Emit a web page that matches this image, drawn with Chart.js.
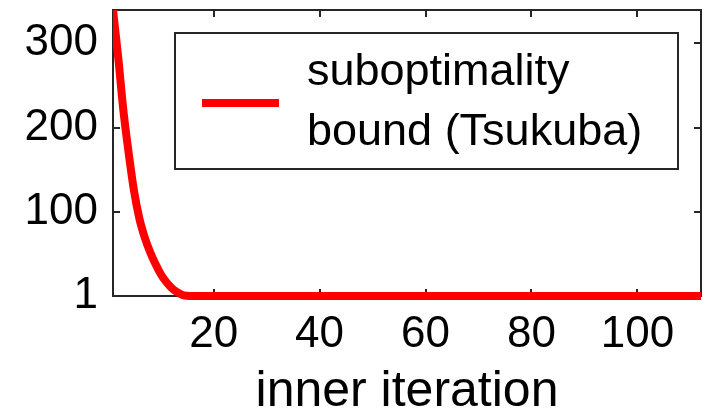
<!DOCTYPE html>
<html>
<head>
<meta charset="utf-8">
<script src="https://cdn.jsdelivr.net/npm/chart.js@4/dist/chart.umd.min.js"></script>
<style>
  html, body { margin: 0; padding: 0; background: #fff; }
  #wrap { width: 706px; height: 412px; position: relative; }
</style>
</head>
<body>
<div id="wrap"><canvas id="c" width="706" height="412"></canvas></div>
<script>
// ---- data ----
const iterations = [1, 2, 3, 4, 5, 6, 7, 8, 9, 10, 11, 12, 13, 14, 15, 16, 112];
const bound      = [339, 282, 218, 168, 124, 92, 70, 53, 39, 27, 18, 11, 6, 2.5, 1.3, 1, 1];
const xTickValues = [20, 40, 60, 80, 100];
const yTickValues = [1, 100, 200, 300];
const legendLines = ['suboptimality', 'bound (Tsukuba)'];
const xTitle = 'inner iteration';

const FONT = '"Liberation Sans", Arial, Helvetica, sans-serif';

const framePlugin = {
  id: 'frame',
  beforeDatasetsDraw(chart) {
    const { ctx, chartArea: a, scales: { x, y } } = chart;
    ctx.save();
    ctx.strokeStyle = '#262626';
    ctx.lineWidth = 2;
    ctx.strokeRect(a.left, a.top, a.right - a.left, a.bottom - a.top);
    const L = 7;
    ctx.beginPath();
    xTickValues.forEach(v => {
      const p = Math.round(x.getPixelForValue(v));
      ctx.moveTo(p, a.bottom); ctx.lineTo(p, a.bottom - L);
      ctx.moveTo(p, a.top); ctx.lineTo(p, a.top + L);
    });
    yTickValues.forEach(v => {
      const p = Math.round(y.getPixelForValue(v));
      ctx.moveTo(a.left, p); ctx.lineTo(a.left + L, p);
      ctx.moveTo(a.right, p); ctx.lineTo(a.right - L, p);
    });
    ctx.stroke();
    ctx.restore();
  },
  afterDatasetsDraw(chart) {
    const { ctx, chartArea: a } = chart;
    const ds = chart.data.datasets[0];
    const bx = a.left + 62, by = a.top + 23, bw = a.right - 23 - bx, bh = 136;
    ctx.save();
    ctx.fillStyle = '#fff';
    ctx.fillRect(bx, by, bw, bh);
    ctx.strokeStyle = '#262626';
    ctx.lineWidth = 2;
    ctx.strokeRect(bx, by, bw, bh);
    ctx.strokeStyle = ds.borderColor;
    ctx.lineWidth = 8;
    ctx.beginPath();
    ctx.moveTo(bx + 27, by + 70);
    ctx.lineTo(bx + 104, by + 70);
    ctx.stroke();
    ctx.fillStyle = '#000';
    ctx.font = '45px ' + FONT;
    ctx.textBaseline = 'alphabetic';
    ctx.textAlign = 'left';
    legendLines.forEach((t, i) => ctx.fillText(t, bx + 132, by + 52 + i * 60));
    ctx.restore();
  }
};

new Chart(document.getElementById('c'), {
  type: 'line',
  data: {
    datasets: [{
      label: legendLines.join(' '),
      data: iterations.map((it, i) => ({ x: it, y: bound[i] })),
      borderColor: '#ff0000',
      borderWidth: 8,
      pointRadius: 0,
      cubicInterpolationMode: 'monotone',
      fill: false,
      clip: { left: 0, top: 0, right: 0, bottom: 8 }
    }]
  },
  options: {
    responsive: false,
    animation: false,
    devicePixelRatio: 1,
    layout: { padding: { left: 0, right: 5, top: 10, bottom: 0 } },
    plugins: { legend: { display: false }, tooltip: { enabled: false } },
    scales: {
      x: {
        type: 'linear',
        min: 1, max: 112,
        grid: { display: false, drawTicks: false },
        border: { display: false },
        afterBuildTicks: s => { s.ticks = xTickValues.map(v => ({ value: v })); },
        afterFit: s => { s.height = 116; s.paddingLeft = 0; s.paddingRight = 0; },
        ticks: {
          color: '#000',
          font: { family: FONT, size: 44, lineHeight: 1 },
          padding: 17,
          maxRotation: 0,
          autoSkip: false
        },
        title: {
          display: true,
          text: xTitle,
          color: '#000',
          font: { family: FONT, size: 50, lineHeight: 1 },
          padding: { top: 0, bottom: -5 }
        }
      },
      y: {
        type: 'linear',
        min: 1, max: 339,
        grid: { display: false, drawTicks: false },
        border: { display: false },
        afterBuildTicks: s => { s.ticks = yTickValues.map(v => ({ value: v })); },
        afterFit: s => { s.width = 113; s.paddingTop = 0; s.paddingBottom = 0; },
        ticks: {
          color: '#000',
          font: { family: FONT, size: 44, lineHeight: 1 },
          padding: 15
        }
      }
    }
  },
  plugins: [framePlugin]
});
</script>
</body>
</html>
